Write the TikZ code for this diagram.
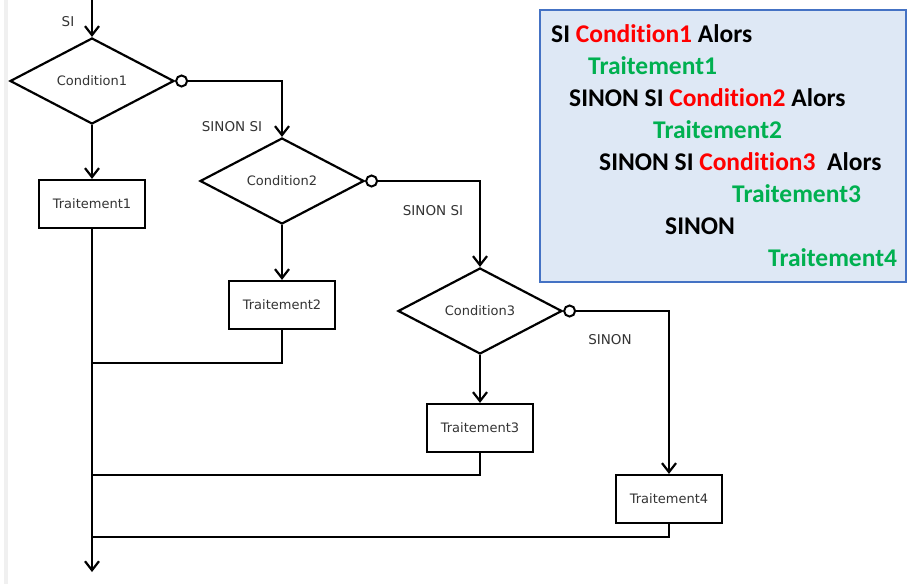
\documentclass[tikz,border=0pt]{standalone}
\usepackage{fontspec}
\setmainfont{DejaVu Sans}
\newfontfamily\calib[Ligatures={NoCommon}]{Carlito}
\usetikzlibrary{shapes.geometric,arrows.meta}
\definecolor{boxfill}{HTML}{DEE8F5}
\definecolor{boxline}{HTML}{4472C4}
\definecolor{cred}{HTML}{FF0000}
\definecolor{cgreen}{HTML}{00B050}
\definecolor{lbl}{HTML}{333333}
\tikzset{
  cond/.style={diamond, draw, line width=2.2pt, minimum width=164pt, minimum height=86pt, inner sep=0pt, font=\fontsize{13}{15}\selectfont, text=lbl},
  proc/.style={rectangle, draw, line width=2.2pt, minimum width=106pt, minimum height=48pt, inner sep=0pt, font=\fontsize{13}{15}\selectfont, text=lbl},
  neg/.style={circle, draw, line width=2pt, fill=white, minimum size=11pt, inner sep=0pt},
  arr/.style={line width=2.2pt, -{Straight Barb[length=9pt,width=14pt,line width=2.2pt]}},
  ln/.style={line width=2.2pt},
  lab/.style={font=\fontsize{13.5}{15}\selectfont, text=lbl, inner sep=0pt},
  code/.style={font=\calib\bfseries\fontsize{25.5}{30}\selectfont, anchor=base west, inner sep=0pt}
}
\begin{document}
\begin{tikzpicture}[x=1pt,y=-1pt]
\useasboundingbox (0,0) rectangle (909,584);
\fill[gray!12] (4,0) rectangle (8,584);
% flowchart
\coordinate (start) at (92,0);
\node[cond] (d1) at (92,81) {Condition1};
\node[proc] (t1) at (92,204) {Traitement1};
\node[cond] (d2) at (282,181) {Condition2};
\node[proc] (t2) at (282,305) {Traitement2};
\node[cond] (d3) at (480,311) {Condition3};
\node[proc] (t3) at (480,428) {Traitement3};
\node[proc] (t4) at (669,499) {Traitement4};
\node[neg, anchor=west] (c1) at (d1.east) {};
\node[neg, anchor=west] (c2) at (d2.east) {};
\node[neg, anchor=west] (c3) at (d3.east) {};
\coordinate (fin) at (92,572);
\coordinate (j1) at (92,363);
\coordinate (j2) at (92,475);
\coordinate (j3) at (92,537);
\node[lab] (l0) at (68,22) {SI};
\node[lab] (l1) at (232,127) {SINON SI};
\node[lab] (l2) at (433,211) {SINON SI};
\node[lab] (l3) at (610,340) {SINON};
\draw[arr] (start) -- (d1.north);
\draw[arr] (d1.south) -- (t1.north);
\draw[arr] (c1.east) -| (d2.north);
\draw[arr] (d2.south) -- (t2.north);
\draw[arr] (c2.east) -| (d3.north);
\draw[arr] (d3.south) -- (t3.north);
\draw[arr] (c3.east) -| (t4.north);
\draw[arr] (t1.south) -- (fin);
\draw[ln] (t2.south) |- (j1);
\draw[ln] (t3.south) |- (j2);
\draw[ln] (t4.south) |- (j3);
% pseudo-code box
\draw[fill=boxfill, draw=boxline, line width=1.8pt] (540,10) rectangle (906,282);
\node[code] (p1) at (551,42) {SI \textcolor{cred}{Condition1} Alors};
\node[code, text=cgreen] (p2) at (588,74) {Traitement1};
\node[code] (p3) at (569,106) {SINON SI \textcolor{cred}{Condition2} Alors};
\node[code, text=cgreen] (p4) at (653,138) {Traitement2};
\node[code] (p5) at (599,170) {SINON SI \textcolor{cred}{Condition3}\ \ Alors};
\node[code, text=cgreen] (p6) at (732,202) {Traitement3};
\node[code] (p7) at (665,234) {SINON};
\node[code, text=cgreen] (p8) at (768,266) {Traitement4};
\end{tikzpicture}
\end{document}
